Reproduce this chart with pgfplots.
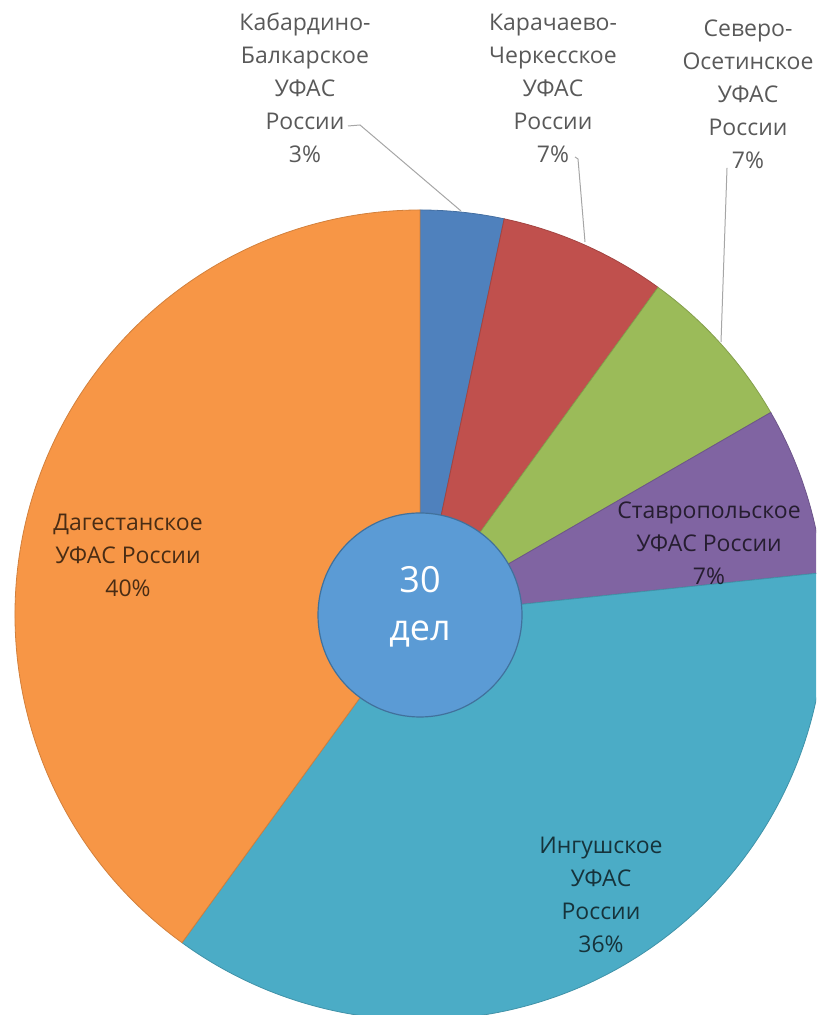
\documentclass[border=0pt]{standalone}
\usepackage{fontspec}
\setmainfont{Open Sans}
\usepackage{pgfplots}
\usepackage{pgfplotstable}
\pgfplotsset{compat=1.18}

\definecolor{c0}{HTML}{4F81BD}
\definecolor{c1}{HTML}{C0504D}
\definecolor{c2}{HTML}{9BBB59}
\definecolor{c3}{HTML}{8064A2}
\definecolor{c4}{HTML}{4BACC6}
\definecolor{c5}{HTML}{F79646}
\definecolor{hole}{HTML}{5B9BD5}
\definecolor{holeedge}{HTML}{41719C}
\definecolor{lbl}{HTML}{595959}
\definecolor{leader}{HTML}{A6A6A6}

\tikzset{
    outer label/.style={font=\fontsize{11.5}{16.5}\selectfont, text=lbl, align=center},
    inner label/.style={font=\fontsize{11.5}{16.5}\selectfont, text=black, text opacity=0.7, align=center},
}

% cases per office, clockwise from 12 o'clock
\pgfplotstableread[col sep=comma]{
office,cases
Kabardino,1
Karachaevo,2
Severo,2
Stavropol,2
Ingush,11
Dagestan,12
}\cases

\begin{document}
\begin{tikzpicture}
\begin{axis}[
    name=ax,
    hide axis,
    x=0.5pt, y=0.5pt,
    xmin=0, xmax=816,
    ymin=0, ymax=1015,
]
\pgfplotsextra{
    \pgfplotstablegetrowsof{\cases}
    \pgfmathtruncatemacro\lastrow{\pgfplotsretval-1}
    \gdef\total{0}
    \foreach \i in {0,...,\lastrow}{
        \pgfplotstablegetelem{\i}{cases}\of\cases
        \pgfmathsetmacro\tmp{\total+\pgfplotsretval}
        \xdef\total{\tmp}
    }
    \gdef\startang{90}
    \foreach \i in {0,...,\lastrow}{
        \pgfplotstablegetelem{\i}{cases}\of\cases
        \pgfmathsetmacro\endang{\startang-\pgfplotsretval/\total*360}
        \fill[c\i, draw=c\i!85!black, line width=0.4pt]
            (axis cs:420,400) -- ++(\startang:202.5pt)
            arc[start angle=\startang, end angle=\endang, radius=202.5pt] -- cycle;
        \xdef\startang{\endang}
    }
}
% hole
\draw[fill=hole, draw=holeedge, line width=0.6pt] (axis cs:420,400) circle[radius=51pt];
\node[text=white, font=\fontsize{18}{18}\selectfont] at (axis cs:420,435) {30};
\node[text=white, font=\fontsize{18}{18}\selectfont] at (axis cs:420,381) {дел};

% leader lines
\draw[leader, line width=0.5pt] (axis cs:348,889) -- (axis cs:360,890) -- (axis cs:461,804);
\draw[leader, line width=0.5pt] (axis cs:575,858) -- (axis cs:578,856) -- (axis cs:585,773);
\draw[leader, line width=0.5pt] (axis cs:727,847) -- (axis cs:721,673);

% labels
\node[outer label] at (axis cs:305,927) {Кабардино-\\Балкарское\\УФАС\\России\\3\%};
\node[outer label] at (axis cs:553,927) {Карачаево-\\Черкесское\\УФАС\\России\\7\%};
\node[outer label] at (axis cs:748,921) {Северо-\\Осетинское\\УФАС\\России\\7\%};
\node[inner label] at (axis cs:128,460) {Дагестанское\\УФАС России\\40\%};
\node[inner label] at (axis cs:709,472) {Ставропольское\\УФАС России\\7\%};
\node[inner label] at (axis cs:601,120) {Ингушское\\УФАС\\России\\36\%};
\end{axis}
\pgfresetboundingbox
\useasboundingbox (ax.south west) rectangle (ax.north east);
\end{tikzpicture}
\end{document}
